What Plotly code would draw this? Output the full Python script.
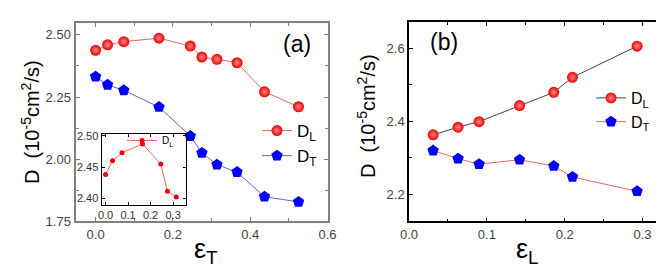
import plotly.graph_objects as go

# ---------------- data ----------------
eps_T = [0.0, 0.031, 0.073, 0.164, 0.245, 0.275, 0.314, 0.366, 0.437, 0.525]
DL_a = [2.438, 2.460, 2.473, 2.487, 2.455, 2.411, 2.402, 2.388, 2.271, 2.211]
DT_a = [2.332, 2.299, 2.277, 2.210, 2.093, 2.025, 1.978, 1.948, 1.849, 1.828]
inset_n = 7  # inset shows the first points of D_L in panel (a)

eps_L = [0.031, 0.063, 0.090, 0.142, 0.186, 0.210, 0.293]
DL_b = [2.363, 2.384, 2.399, 2.443, 2.479, 2.520, 2.605]
DT_b = [2.320, 2.298, 2.283, 2.295, 2.278, 2.248, 2.209]

W, H = 664, 268


def fx(px):
    return px / W


def fy(py):
    return 1 - py / H


RED = "#f00000"
BLUE = "#0000ff"
sphere = dict(symbol="circle", size=11, color=RED,
              gradient=dict(type="radial", color="#ff8a8a"),
              line=dict(width=0))
penta = dict(symbol="pentagon", size=12, color=BLUE, line=dict(width=0))

fig = go.Figure()

# panel (a)
fig.add_trace(go.Scatter(x=eps_T, y=DL_a, mode="lines+markers", name="D<sub>L</sub>",
                         line=dict(color="#e46a66", width=1), marker=sphere,
                         xaxis="x", yaxis="y", legend="legend"))
fig.add_trace(go.Scatter(x=eps_T, y=DT_a, mode="lines+markers", name="D<sub>T</sub>",
                         line=dict(color="#6464cc", width=1), marker=penta,
                         xaxis="x", yaxis="y", legend="legend"))
# inset
fig.add_trace(go.Scatter(x=eps_T[:inset_n], y=DL_a[:inset_n], mode="lines+markers",
                         name="D<sub>L</sub>",
                         line=dict(color="#e46a66", width=1),
                         marker=dict(symbol="circle", size=5, color=RED),
                         xaxis="x3", yaxis="y3", legend="legend3"))
# panel (b)
fig.add_trace(go.Scatter(x=eps_L, y=DL_b, mode="lines+markers", name="D<sub>L</sub>",
                         line=dict(color="#444444", width=1), marker=sphere,
                         xaxis="x2", yaxis="y2", legend="legend2"))
fig.add_trace(go.Scatter(x=eps_L, y=DT_b, mode="lines+markers", name="D<sub>T</sub>",
                         line=dict(color="#e46a66", width=1), marker=penta,
                         xaxis="x2", yaxis="y2", legend="legend2"))

tickfont = dict(family="Liberation Sans, Arial", size=13, color="#444444")


def ax(domain, rng, dtick, minor, linecolor, lw, anchor, fmt, tf=tickfont, ticklen=4):
    return dict(domain=domain, range=rng, dtick=dtick, tick0=0, anchor=anchor,
                automargin=False,
                showline=True, linecolor=linecolor, linewidth=lw, mirror="ticks",
                ticks="inside", ticklen=ticklen, tickwidth=1, tickcolor=linecolor,
                minor=dict(dtick=minor, ticks="inside", ticklen=ticklen - 1,
                           tickcolor=linecolor) if minor else None,
                showgrid=False, zeroline=False, tickformat=fmt, tickfont=tf)


inset_font = dict(family="Liberation Sans, Arial", size=11, color="#333333")

fig.update_layout(
    width=W, height=H, autosize=False,
    margin=dict(l=0, r=0, t=0, b=0, autoexpand=False),
    paper_bgcolor="white", plot_bgcolor="rgba(0,0,0,0)",
    xaxis=ax([fx(67.5), fx(319.5)], [-0.052, 0.6], 0.2, 0.1, "#808080", 2, "y", ".1f"),
    yaxis=ax([fy(213.3), fy(14.5)], [1.75, 2.55], 0.25, 0.125, "#808080", 2, "x", ".2f"),
    xaxis2=ax([fx(401), fx(654)], [0, 0.325], 0.1, 0.05, "#000000", 1.5, "y2", ".1f"),
    yaxis2=ax([fy(213.3), fy(14)], [2.127, 2.671], 0.2, 0.1, "#000000", 1.5, "x2", ".1f"),
    xaxis3=ax([fx(93.5), fx(177.5)], [-0.018, 0.355], 0.1, None, "#000000", 1, "y3", ".1f",
              inset_font, 3),
    yaxis3=ax([fy(197), fy(126)], [2.389, 2.503], 0.05, None, "#000000", 1, "x3", ".2f",
              inset_font, 3),
    legend=dict(x=fx(249), y=fy(105), xanchor="left", yanchor="top",
                font=dict(family="Liberation Sans, Arial", size=17, color="black"),
                bgcolor="rgba(0,0,0,0)", itemwidth=30, tracegroupgap=0),
    legend2=dict(x=fx(583), y=fy(73), xanchor="left", yanchor="top",
                 font=dict(family="Liberation Sans, Arial", size=16, color="black"),
                 bgcolor="rgba(0,0,0,0)", itemwidth=30, tracegroupgap=0),
    legend3=dict(x=fx(114), y=fy(118), xanchor="left", yanchor="top",
                 font=dict(family="Liberation Sans, Arial", size=10, color="black"),
                 bgcolor="rgba(0,0,0,0)", itemwidth=30),
    showlegend=True,
)

title_font = dict(family="Liberation Sans, Arial", size=20, color="black")
annotations = [
    dict(text="D  (10<sup>-5</sup>cm<sup>2</sup>/s)", x=fx(22), y=fy(114), textangle=-90,
         font=title_font),
    dict(text="D  (10<sup>-5</sup>cm<sup>2</sup>/s)", x=fx(358), y=fy(108), textangle=-90,
         font=title_font),
    dict(text="ε<sub>T</sub>", x=fx(198), y=fy(243),
         font=dict(family="Liberation Sans, Arial", size=27, color="black")),
    dict(text="ε<sub>L</sub>", x=fx(519), y=fy(243),
         font=dict(family="Liberation Sans, Arial", size=27, color="black")),
    dict(text="(a)", x=fx(289), y=fy(36),
         font=dict(family="Liberation Sans, Arial", size=23, color="black")),
    dict(text="(b)", x=fx(436), y=fy(34),
         font=dict(family="Liberation Sans, Arial", size=23, color="black")),
]
for a in annotations:
    a.update(xref="paper", yref="paper", showarrow=False, xanchor="center", yanchor="middle")
fig.update_layout(annotations=annotations)

fig.write_html("out.html")
